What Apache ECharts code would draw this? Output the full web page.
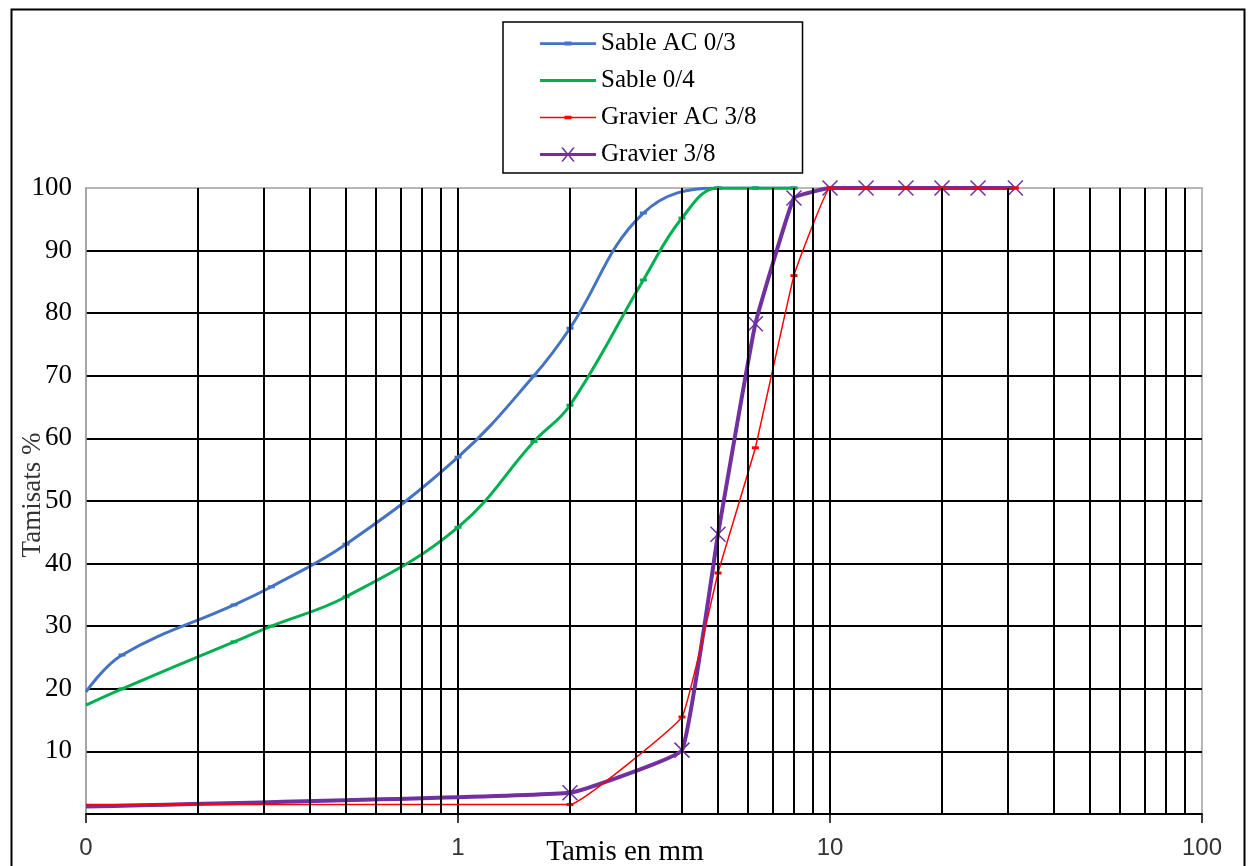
<!DOCTYPE html>
<html>
<head>
<meta charset="utf-8">
<script src="https://cdn.jsdelivr.net/npm/echarts@6/dist/echarts.min.js"></script>
<style>
  html, body { margin: 0; background: #fff; }
  #chart { width: 1249px; height: 866px; }
</style>
</head>
<body>
<div id="chart"></div>
<script>
// tamis (mm) et tamisats (%)
var sieveSableAC = [0.1, 0.125, 0.25, 0.315, 0.5, 1, 1.6, 2, 3.15, 5, 6.3, 8]
var passSableAC = [19.5, 25.4, 33.4, 36.3, 43.1, 57, 70, 77.6, 96, 100, 100, 100]

var sieveSable = [0.1, 0.125, 0.25, 0.315, 0.5, 1, 1.6, 2, 3.15, 4, 5, 6.3, 8]
var passSable = [17.4, 20, 27.5, 30, 34.7, 45.8, 59.5, 65.3, 85.3, 95.2, 100, 100, 100]

var sieveGravierAC = [0.1, 2, 4, 5, 6.3, 8, 10, 12.5, 16, 20, 25, 31.5]
var passGravierAC = [1.5, 1.5, 15.5, 38.5, 58.5, 86, 100, 100, 100, 100, 100, 100]

var sieveGravier = [0.1, 2, 4, 5, 6.3, 8, 10, 12.5, 16, 20, 25, 31.5]
var passGravier = [1.2, 3.4, 10.2, 44.7, 78.3, 98.4, 100, 100, 100, 100, 100, 100]

var seriesNames = ['Sable AC 0/3', 'Sable 0/4', 'Gravier AC 3/8', 'Gravier 3/8']

// lignes secondaires de la grille log
var minorGrid = [0.2, 0.3, 0.4, 0.5, 0.6, 0.7, 0.8, 0.9,
                 2, 3, 4, 5, 6, 7, 8, 9,
                 20, 30, 40, 50, 60, 70, 80, 90]

var serif = 'Liberation Serif'

// icones de legende (56 x 14) : trait + marqueur
var iconDash = 'path://M28,0L28,0M0,5.8L56,5.8L56,8.4L0,8.4Z M24.5,5L31.5,5L31.5,9L24.5,9Z M28,14L28,14'
var iconLine = 'path://M28,0L28,0M0,5.6L56,5.6L56,8.6L0,8.6Z M28,14L28,14'
var iconThin = 'path://M28,0L28,0M0,6.3L56,6.3L56,7.8L0,7.8Z M24.5,5.2L31.5,5.2L31.5,8.8L24.5,8.8Z M28,14L28,14'
var iconCross = 'path://M0,5.5L56,5.5L56,8.5L0,8.5Z M21,0L23,0L35,14L33,14Z M33,0L35,0L23,14L21,14Z'
var legendIcons = [iconDash, iconLine, iconThin, iconCross]

function mk(sizes, vals) {
  var out = []
  for (let i = 0; i < sizes.length; i++) {
    var item = { value: [sizes[i], vals[i]] }
    if (i === 0) item.symbol = 'none'
    out.push(item)
  }
  return out
}

var myChart = echarts.init(document.getElementById('chart'))

var option = {
  animation: false,
  backgroundColor: '#fff',
  graphic: [{
    type: 'rect',
    left: 9, top: 7,
    shape: { width: 1233, height: 900 },
    style: { fill: 'none', stroke: '#000', lineWidth: 2 },
    silent: true
  }],
  legend: {
    data: seriesNames.map(function (n, i) { return { name: n, icon: legendIcons[i] } }),
    orient: 'vertical',
    left: 503, top: 22,
    padding: [9, 46, 6, 37],
    itemWidth: 56, itemHeight: 14, itemGap: 12,
    borderColor: '#000', borderWidth: 1.5,
    itemStyle: { borderWidth: 0 },
    textStyle: { fontFamily: serif, fontSize: 25, color: '#000' }
  },
  grid: {
    left: 86, right: 47, top: 188, bottom: 52,
    containLabel: false, outerBoundsMode: 'none',
    show: true, borderColor: '#a0a0a0', borderWidth: 1.5
  },
  xAxis: {
    type: 'log', logBase: 10, min: 0.1, max: 100,
    name: 'Tamis en mm', nameLocation: 'middle', nameGap: 24, nameMoveOverlap: false,
    nameTextStyle: { fontFamily: serif, fontSize: 29, color: '#000', padding: [0, 38, 0, 0] },
    axisLine: { lineStyle: { color: '#000', width: 2 } },
    axisTick: { show: true, length: 9, lineStyle: { color: '#000', width: 1.5 } },
    axisLabel: {
      margin: 22, fontFamily: 'Liberation Sans', fontSize: 24, color: '#333',
      formatter: function (v) { return v < 1 ? '0' : String(Math.round(v)) }
    },
    splitLine: { show: true, showMinLine: false, showMaxLine: false, lineStyle: { color: '#000', width: 2 } }
  },
  yAxis: {
    type: 'value', min: 0, max: 100, interval: 10,
    name: 'Tamisats %', nameLocation: 'middle', nameGap: 40, nameMoveOverlap: false,
    nameTextStyle: { fontFamily: serif, fontSize: 27, color: '#333', padding: [0, 0, 0, 12] },
    axisLine: { show: true, lineStyle: { color: '#a0a0a0', width: 1.5 } },
    axisTick: { show: false },
    axisLabel: {
      margin: 14, fontFamily: serif, fontSize: 27, color: '#000',
      formatter: function (v) { return v === 0 ? '' : String(v) }
    },
    splitLine: { show: true, showMinLine: false, showMaxLine: false, lineStyle: { color: '#000', width: 2 } }
  },
  series: [
    {
      name: 'grille', type: 'line', data: [], z: 1, silent: true,
      markLine: {
        silent: true, symbol: ['none', 'none'], animation: false,
        label: { show: false },
        lineStyle: { color: '#000', width: 2, type: 'solid' },
        emphasis: { disabled: true },
        data: minorGrid.map(function (v) { return { xAxis: v } })
      }
    },
    {
      name: seriesNames[0], type: 'line', z: 3,
      data: mk(sieveSableAC, passSableAC),
      smooth: 0.4,
      symbol: 'rect', symbolSize: [7, 3],
      lineStyle: { color: '#4472c4', width: 3 },
      itemStyle: { color: '#4472c4' }
    },
    {
      name: seriesNames[1], type: 'line', z: 3,
      data: mk(sieveSable, passSable),
      smooth: 0.4,
      symbol: 'rect', symbolSize: [7, 3],
      lineStyle: { color: '#00b050', width: 3 },
      itemStyle: { color: '#00b050' }
    },
    {
      name: seriesNames[2], type: 'line', z: 4,
      data: mk(sieveGravierAC, passGravierAC),
      smooth: 0.08,
      symbol: 'rect', symbolSize: [7, 3],
      lineStyle: { color: '#ff0000', width: 1.5 },
      itemStyle: { color: '#ff0000' }
    },
    {
      name: seriesNames[3], type: 'line', z: 3,
      data: mk(sieveGravier, passGravier),
      smooth: 0.08,
      symbol: 'path://M0,0L10,10M10,0L0,10', symbolSize: 15,
      lineStyle: { color: '#7030a0', width: 4 },
      itemStyle: { color: '#7030a0', borderColor: '#7030a0', borderWidth: 1.5 }
    }
  ]
}

myChart.setOption(option)
</script>
</body>
</html>
